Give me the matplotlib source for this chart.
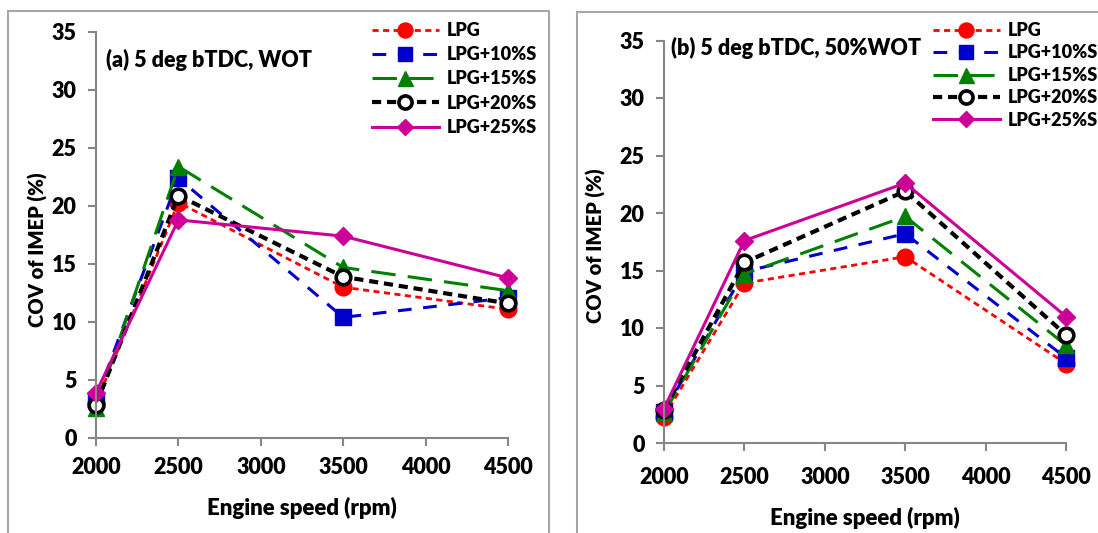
import matplotlib
matplotlib.use("Agg")
import matplotlib.pyplot as plt
from matplotlib.patches import Rectangle

plt.rcParams['font.family'] = ['Lato', 'DejaVu Sans']
plt.rcParams['font.weight'] = 'heavy'

speeds = [2000, 2500, 3500, 4500]
series_names = ["LPG", "LPG+10%S", "LPG+15%S", "LPG+20%S", "LPG+25%S"]

# COV of IMEP (%) at 5 deg bTDC, WOT
wot_lpg = [3.0, 20.3, 13.0, 11.1]
wot_s10 = [3.3, 22.4, 10.4, 12.1]
wot_s15 = [2.6, 23.4, 14.7, 12.7]
wot_s20 = [2.85, 20.9, 13.9, 11.6]
wot_s25 = [3.9, 18.8, 17.4, 13.8]

# COV of IMEP (%) at 5 deg bTDC, 50%WOT
half_lpg = [2.3, 13.9, 16.2, 6.9]
half_s10 = [2.7, 14.9, 18.2, 7.4]
half_s15 = [2.6, 14.7, 19.7, 8.5]
half_s20 = [2.9, 15.7, 21.9, 9.4]
half_s25 = [3.0, 17.6, 22.6, 11.0]

x_ticks = [2000, 2500, 3000, 3500, 4000, 4500]
y_ticks = [0, 5, 10, 15, 20, 25, 30, 35]

styles = [
    dict(color='#FF0000', ls=(0, (2.2, 1.6)), lw=2.0, marker='o', ms=12,
         mfc='#FF0000', mec='#FF0000', mew=1),
    dict(color='#0000CC', ls=(0, (4.5, 3.8)), lw=2.2, marker='s', ms=11.5,
         mfc='#0000CC', mec='#0000CC', mew=1),
    dict(color='#008000', ls=(0, (8, 4)), lw=2.2, marker='^', ms=12,
         mfc='#008000', mec='#008000', mew=1),
    dict(color='#000000', ls=(0, (2.2, 1.4)), lw=3.0, marker='o', ms=10.5,
         mfc='white', mec='#000000', mew=2.6),
    dict(color='#CC0099', ls='-', lw=2.2, marker='D', ms=9.5,
         mfc='#CC0099', mec='#CC0099', mew=1),
]

W, H = 1098, 533
fig = plt.figure(figsize=(W / 100, H / 100), dpi=100)

# panel frames
frame_col = '#A6A6A6'
fig.add_artist(Rectangle((8 / W, -0.05), (549 - 8) / W, 1.05 - 11 / H,
                         transform=fig.transFigure, fill=False,
                         ec=frame_col, lw=1.5))
fig.add_artist(Rectangle((577 / W, -0.05), 0.6, 1.05 - 12 / H,
                         transform=fig.transFigure, fill=False,
                         ec=frame_col, lw=1.5))

panels = [
    dict(rect=[96 / W, (H - 438) / H, (508 - 96) / W, (438 - 32) / H],
         data=[wot_lpg, wot_s10, wot_s15, wot_s20, wot_s25],
         title="(a) 5 deg bTDC, WOT", title_xy=(106, 60),
         leg_xy=(372, 22), leg_sp=0.4, ylab_xy=(38, 250), xlab_y=508,
         tick_pad=8),
    dict(rect=[664 / W, (H - 443) / H, (1066 - 664) / W, (443 - 40.5) / H],
         data=[half_lpg, half_s10, half_s15, half_s20, half_s25],
         title="(b) 5 deg bTDC, 50%WOT", title_xy=(671, 48),
         leg_xy=(933, 22), leg_sp=0.3, ylab_xy=(596, 246), xlab_y=518,
         tick_pad=11),
]

axis_col = '#868686'
for p in panels:
    ax = fig.add_axes(p['rect'])
    for name, vals, st in zip(series_names, p['data'], styles):
        ax.plot(speeds, vals, label=name, clip_on=False, **st)
    ax.set_xlim(2000, 4500)
    ax.set_ylim(0, 35)
    ax.set_xticks(x_ticks)
    ax.set_yticks(y_ticks)
    for s in ('top', 'right'):
        ax.spines[s].set_visible(False)
    for s in ('left', 'bottom'):
        ax.spines[s].set_color(axis_col)
        ax.spines[s].set_linewidth(1.5)
    ax.tick_params(axis='both', direction='out', length=6, width=1.5,
                   color=axis_col, labelsize=15.5)
    ax.tick_params(axis='x', pad=p['tick_pad'])
    ax.tick_params(axis='y', pad=8)
    for lab in ax.get_xticklabels() + ax.get_yticklabels():
        lab.set_fontweight('heavy')

    fig.text(p['title_xy'][0] / W, 1 - p['title_xy'][1] / H, p['title'],
             fontsize=15.5, fontweight='heavy', ha='left', va='center')
    fig.text(p['ylab_xy'][0] / W, 1 - p['ylab_xy'][1] / H,
             "COV of IMEP (%)", rotation=90, fontsize=14.5,
             fontweight='heavy', ha='center', va='center')
    bb = p['rect']
    fig.text(bb[0] + bb[2] / 2, 1 - p['xlab_y'] / H, "Engine speed (rpm)",
             fontsize=16, fontweight='heavy', ha='center', va='center')

    ax.legend(loc='upper left',
              bbox_to_anchor=(p['leg_xy'][0] / W, 1 - p['leg_xy'][1] / H),
              bbox_transform=fig.transFigure, frameon=False,
              prop=dict(size=13, weight='heavy'), handlelength=3.7,
              handletextpad=0.45, labelspacing=p['leg_sp'], borderpad=0,
              borderaxespad=0, markerscale=0.9)

fig.savefig("out.png", dpi=100)
